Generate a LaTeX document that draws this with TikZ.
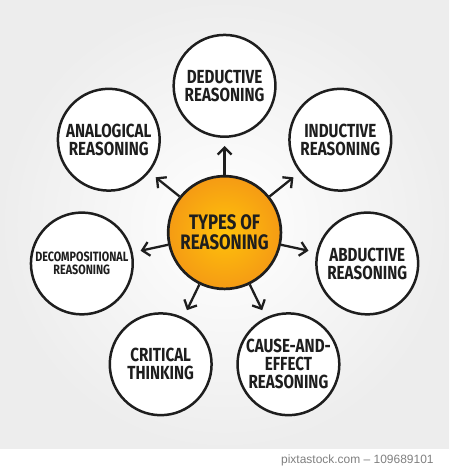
\documentclass[tikz,border=0pt]{standalone}
\usepackage{fontspec}
\usepackage{xcolor}
\setmainfont{Fira Sans}
\newfontfamily\handfont[FakeStretch=0.8]{Fira Sans}
\newfontfamily\footfont{Liberation Sans}
\usetikzlibrary{arrows.meta}

\definecolor{hubin}{HTML}{FFC20A}
\definecolor{hubout}{HTML}{F59B14}
\definecolor{inkline}{HTML}{1E1E1E}

\begin{document}
\begin{tikzpicture}[x=1pt, y=1pt,
    every node/.style={align=center, text=inkline},
    topic/.style={circle, draw=inkline, line width=2.5pt, fill=white, minimum size=102pt, inner sep=0pt,
      font=\handfont\bfseries\fontsize{19}{18}\selectfont},
    hub/.style={circle, draw=inkline, line width=2.7pt, minimum size=113pt, inner sep=0pt,
      inner color=hubin, outer color=hubout, font=\handfont\bfseries\fontsize{21}{20}\selectfont},
    link/.style={-{Straight Barb[length=7pt, width=14pt]}, line width=2.3pt, draw=inkline, shorten >=8pt},
]
% Background and footer strip
\shade[inner color=white, outer color=gray!14] (0,19) rectangle (450,469);
\fill[white] (0,0) rectangle (450,19);
\node[font=\footfont\fontsize{12}{14}\selectfont, text=gray, anchor=east] (credit) at (438,8)
  {pixtastock.com – 109689101};

% Hub
\node[hub] (types) at (225,236) {TYPES OF\\REASONING};

% Ring of reasoning kinds (clockwise from top)
\node[topic] (deductive) at (225,383) {DEDUCTIVE\\REASONING};
\node[topic] (inductive) at (341,329) {INDUCTIVE\\REASONING};
\node[topic] (abductive) at (368,205) {ABDUCTIVE\\REASONING};
\node[topic] (cause) at (289,104) {CAUSE-AND-\\EFFECT\\REASONING};
\node[topic] (critical) at (161,104) {CRITICAL\\THINKING};
\node[topic, font=\handfont\bfseries\fontsize{13.5}{13}\selectfont] (decomp) at (82,205)
  {DECOMPOSITIONAL\\REASONING};
\node[topic] (analogical) at (109,329) {ANALOGICAL\\REASONING};

% Arrows from hub to each kind
\draw[link] (types) -- (deductive);
\draw[link] (types) -- (inductive);
\draw[link] (types) -- (abductive);
\draw[link] (types) -- (cause);
\draw[link] (types) -- (critical);
\draw[link] (types) -- (decomp);
\draw[link] (types) -- (analogical);
\end{tikzpicture}
\end{document}
